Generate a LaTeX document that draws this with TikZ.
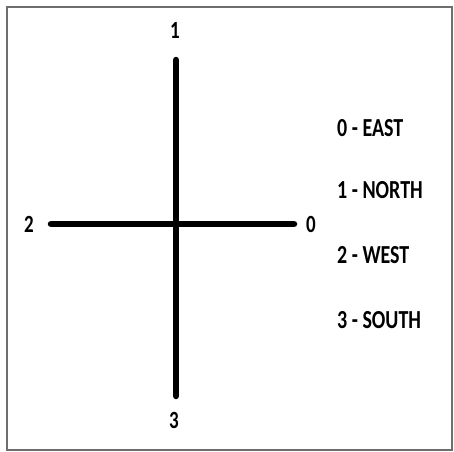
\documentclass[tikz,border=0pt]{standalone}
\usepackage{fontspec}
\setmainfont{Carlito}
\usetikzlibrary{positioning}
\definecolor{marco}{HTML}{6E6E6E}
\tikzset{
  eje/.style={line width=6.5pt,line cap=round,black},
  num/.style={font=\bfseries\fontsize{19}{22}\selectfont,inner sep=0pt,
    yscale=1.3,transform shape},
  leyenda/.style={font=\bfseries\fontsize{20}{24}\selectfont,anchor=west,inner sep=0pt,
    yscale=1.3,transform shape}
}
\begin{document}
\begin{tikzpicture}[x=1pt,y=-1pt,line cap=round]
        \useasboundingbox (0,0) rectangle (454,451);
        % --- marco ---
        \draw[marco,line width=1.5pt,line cap=butt] (7,7) rectangle (452,450);
        % --- extremos de la cruz ---
        \coordinate (N) at (176,60);  \coordinate (S) at (176,396);
        \coordinate (W) at (51,224);  \coordinate (E) at (294,224);
        % --- ejes ---
        \draw[eje] (N) -- (S);
        \draw[eje] (W) -- (E);
        % --- etiquetas de los extremos ---
        \node[num] (n1) at (175,30) {1};
        \node[num] (n2) at (29,224) {2};
        \node[num] (n0) at (311,224) {0};
        \node[num] (n3) at (174,420) {3};
        % --- leyenda ---
        \node[leyenda] (l0) at (337,128) {0 - EAST};
        \node[leyenda] (l1) at (337,190) {1 - NORTH};
        \node[leyenda] (l2) at (337,255) {2 - WEST};
        \node[leyenda] (l3) at (337,320) {3 - SOUTH};
      \end{tikzpicture}
\end{document}
